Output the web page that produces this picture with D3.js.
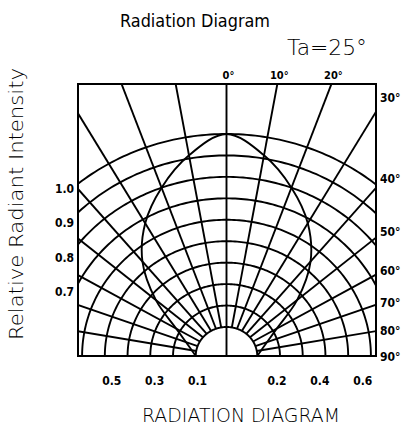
<!DOCTYPE html>
<html><head><meta charset="utf-8">
<script src="https://cdn.jsdelivr.net/npm/d3@7"></script>
<style>body{margin:0;background:#fff}svg{display:block}</style>
</head><body><svg id="c" width="401" height="428"></svg>
<script>
// ---- data ----
const ringValues = [0.1,0.2,0.3,0.4,0.5,0.6,0.7,0.8,0.9,1.0];
const spokeAngles = [-80,-70,-60,-50,-40,-30,-20,-10,10,20,30,40,50,60,70,80];
const curveAngles = [0,10,20,30,40,50,60,70,80,90];
const curveValues = [1.0,0.915,0.80,0.68,0.54,0.37,0.22,0.155,0.12,0.10];
const topLabelAngles = [0,10,20];
const rightLabelAngles = [30,40,50,60,70,80,90];
const leftLabelValues = [1.0,0.9,0.8,0.7];
const bottomLeftValues = [0.1,0.3,0.5];
const bottomRightValues = [0.2,0.4,0.6];

// ---- layout ----
const svg = d3.select("#c");
const box = {x0:78, x1:376, y0:84, y1:356};
const cx = 226.5, cy = 356, stretch = 1.06;
const r = d3.scaleLinear().domain([0.1,1.0]).range([29,222]);
const ang = d3.scaleLinear().domain([-90,90]).range([-Math.PI/2, Math.PI/2]);
const leftY = d3.scaleLinear().domain([1.0,0.7]).range([188,291]);
const proj = (deg, rad) => [cx + stretch*rad*Math.sin(ang(deg)), cy - rad*Math.cos(ang(deg))];

svg.append("defs").append("clipPath").attr("id","clip")
  .append("rect").attr("x",box.x0).attr("y",box.y0)
  .attr("width",box.x1-box.x0).attr("height",box.y1-box.y0);

const g = svg.append("g").attr("clip-path","url(#clip)")
  .attr("fill","none").attr("stroke","#000").attr("stroke-width",1.9);

const line = d3.line();
const arcDegs = d3.range(-90, 90.5, 1);
g.selectAll("path.ring").data(ringValues).join("path").attr("class","ring")
  .attr("d", v => line(arcDegs.map(a => proj(a, r(v)))));

g.selectAll("path.spoke").data(spokeAngles).join("path").attr("class","spoke")
  .attr("d", a => line([proj(a, r(0.1)), proj(a, 500)]));
g.append("path").attr("d", line([proj(0,0), proj(0,500)]));

// radiation curve
const pts = curveAngles.map((a,i)=>({a:-a, v:curveValues[i]})).reverse()
  .concat(curveAngles.slice(1).map((a,i)=>({a:a, v:curveValues[i+1]})));
g.append("path").attr("stroke-width",1.9)
  .attr("d", d3.line().curve(d3.curveCatmullRom)(pts.map(p => proj(p.a, r(p.v)))));

// frame
svg.append("rect").attr("x",box.x0).attr("y",box.y0)
  .attr("width",box.x1-box.x0).attr("height",box.y1-box.y0)
  .attr("fill","none").attr("stroke","#000").attr("stroke-width",2);

// ---- labels ----
const lblFont = "'DejaVu Sans Condensed','Liberation Sans Narrow',sans-serif";
const lab = svg.append("g").attr("font-family",lblFont).attr("font-weight","bold")
  .attr("font-size",12).attr("fill","#000");

lab.selectAll("text.top").data(topLabelAngles).join("text")
  .attr("x", a => cx + stretch*(cy-box.y0)*Math.tan(ang(a)) + 2)
  .attr("y", 79).attr("text-anchor","middle").attr("font-size",11)
  .text(a => a + "°");

lab.selectAll("text.right").data(rightLabelAngles).join("text")
  .attr("x", 380)
  .attr("y", a => cy - (box.x1-cx)/Math.tan(ang(a)) + 5)
  .text(a => a + "°");

lab.selectAll("text.left").data(leftLabelValues).join("text")
  .attr("x", 74).attr("y", v => leftY(v) + 5).attr("text-anchor","end")
  .text(v => v.toFixed(1));

lab.selectAll("text.bl").data(bottomLeftValues).join("text")
  .attr("x", v => cx - r(v)).attr("y", 385).attr("text-anchor","middle")
  .text(v => v.toFixed(1));
lab.selectAll("text.br").data(bottomRightValues).join("text")
  .attr("x", v => cx + r(v)).attr("y", 385).attr("text-anchor","middle")
  .text(v => v.toFixed(1));

// titles
const thin = "'DejaVu Sans','Liberation Sans',sans-serif";
svg.append("text").attr("x",120).attr("y",27).attr("font-family",thin)
  .attr("font-size",18).attr("fill","#000")
  .attr("textLength",150).attr("lengthAdjust","spacingAndGlyphs")
  .text("Radiation Diagram");
svg.append("text").attr("x",287).attr("y",55).attr("font-family",thin)
  .attr("font-size",22).attr("font-weight",200).attr("fill","#000")
  .attr("textLength",80).attr("lengthAdjust","spacingAndGlyphs")
  .text("Ta=25°");
svg.append("text").attr("transform","translate(23,340) rotate(-90)")
  .attr("font-family",thin).attr("font-size",19).attr("font-weight",200).attr("fill","#000")
  .attr("textLength",272).attr("lengthAdjust","spacingAndGlyphs")
  .text("Relative Radiant Intensity");
svg.append("text").attr("x",142).attr("y",422).attr("font-family",thin)
  .attr("font-size",20).attr("font-weight",200).attr("fill","#000")
  .attr("textLength",198).attr("lengthAdjust","spacingAndGlyphs")
  .text("RADIATION DIAGRAM");
</script></body></html>
